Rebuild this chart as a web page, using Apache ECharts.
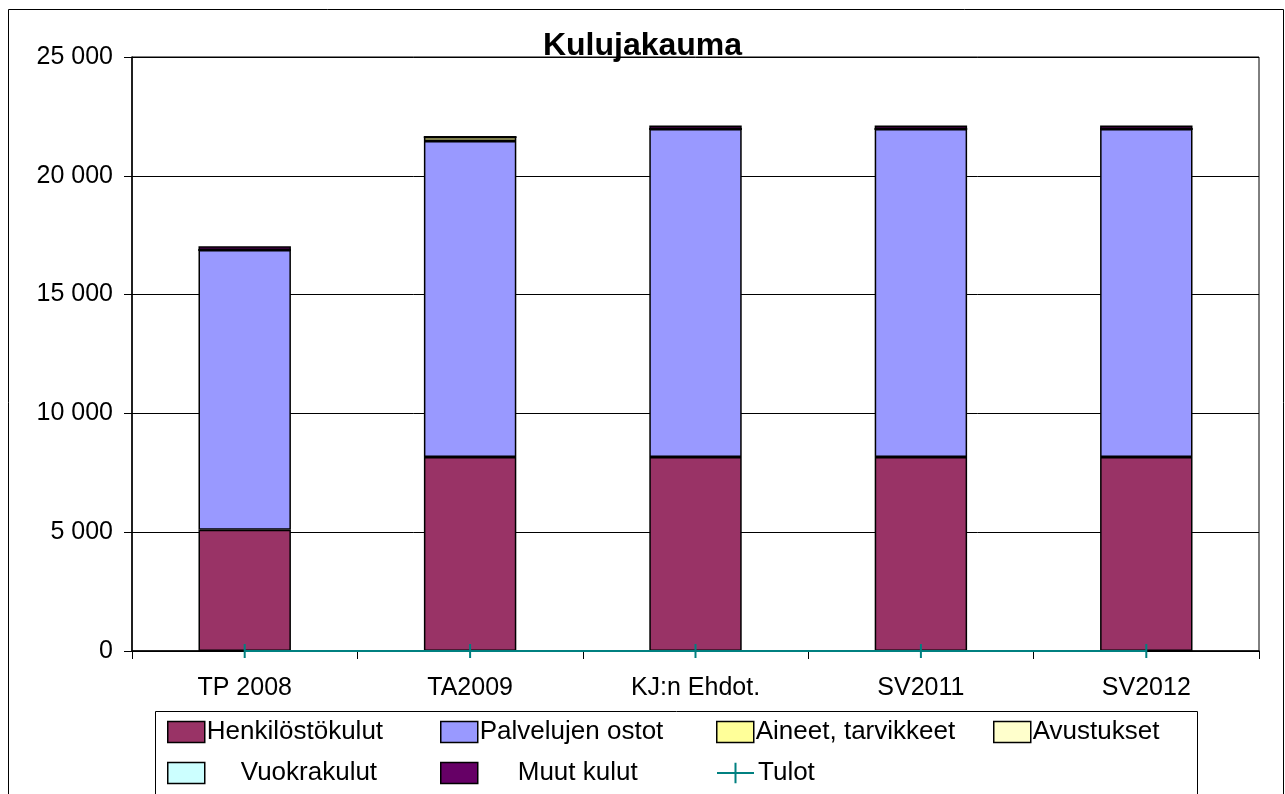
<!DOCTYPE html>
<html>
<head>
<meta charset="utf-8">
<script src="https://cdn.jsdelivr.net/npm/echarts@6/dist/echarts.min.js"></script>
<style>
html,body{margin:0;padding:0;background:#fff;}
#chart{width:1285px;height:794px;}
</style>
</head>
<body>
<div id="chart"></div>
<script>
// Cost distribution by budget year (thousand €)
const categories = ['TP 2008', 'TA2009', 'KJ:n Ehdot.', 'SV2011', 'SV2012'];
const henkilostokulut = [5100, 8170, 8170, 8170, 8170];
const palvelujenOstot = [11780, 13290, 13800, 13800, 13800];
const aineetTarvikkeet = [0, 170, 0, 0, 0];
const avustukset = [0, 0, 0, 0, 0];
const vuokrakulut = [0, 0, 0, 0, 0];
const muutKulut = [150, 0, 150, 150, 150];
const tulot = [0, 0, 0, 0, 0];
const yTicks = [0, 5000, 10000, 15000, 20000, 25000];

const FONT = '"Liberation Sans", Arial, sans-serif';

const barSeries = [
  { name: 'Henkilöstökulut', data: henkilostokulut, color: '#993366' },
  { name: 'Palvelujen ostot', data: palvelujenOstot, color: '#9999FF' },
  { name: 'Aineet, tarvikkeet', data: aineetTarvikkeet, color: '#FFFF99' },
  { name: 'Avustukset', data: avustukset, color: '#FFFFCC' },
  { name: 'Vuokrakulut', data: vuokrakulut, color: '#CCFFFF' },
  { name: 'Muut kulut', data: muutKulut, color: '#660066' }
].map(s => ({
  name: s.name,
  type: 'bar',
  stack: 'kulut',
  barWidth: '41%',
  data: s.data,
  itemStyle: { color: s.color, borderColor: '#000', borderWidth: 1.5 },
  emphasis: { disabled: true }
}));

const series = barSeries.concat([{
  name: 'Tulot',
  type: 'line',
  data: tulot,
  z: 5,
  symbol: 'path://M4.5,0 L5.5,0 L5.5,10 L4.5,10 Z',
  symbolSize: [2, 14],
  itemStyle: { color: '#008080' },
  lineStyle: { color: '#008080', width: 2 },
  emphasis: { disabled: true }
}]);

// Legend entries laid out in two rows inside a framed box
const legendSpots = [
  { name: 'Henkilöstökulut', left: 167, top: 719, gap: -3 },
  { name: 'Palvelujen ostot', left: 440, top: 719, gap: -3 },
  { name: 'Aineet, tarvikkeet', left: 716, top: 719, gap: -3 },
  { name: 'Avustukset', left: 993, top: 719, gap: -3 },
  { name: 'Vuokrakulut', left: 167, top: 760, gap: 31 },
  { name: 'Muut kulut', left: 440, top: 760, gap: 35 },
  { name: 'Tulot', left: 716, top: 760, gap: -1 }
];

const legends = legendSpots.map(l => ({
  data: [l.name === 'Tulot'
    ? { name: l.name, icon: 'path://M0,10 L36,10 M18,0 L18,20' }
    : { name: l.name, icon: 'rect' }],
  left: l.left,
  top: l.top,
  itemWidth: 37,
  itemHeight: 21,
  itemGap: 0,
  padding: 0,
  selectedMode: false,
  textStyle: { fontFamily: FONT, fontSize: 26, color: '#000', padding: [0, 0, 0, l.gap] },
  itemStyle: l.name === 'Tulot'
    ? { color: 'transparent', borderColor: '#008080', borderWidth: 2 }
    : { borderColor: '#000', borderWidth: 1.5 },
  lineStyle: l.name === 'Tulot' ? { width: 0 } : undefined
}));

const chart = echarts.init(document.getElementById('chart'), null, { renderer: 'canvas' });
chart.setOption({
  backgroundColor: '#fff',
  animation: false,
  title: {
    text: 'Kulujakauma',
    left: 'center',
    top: 25,
    textStyle: { fontFamily: FONT, fontSize: 32, fontWeight: 'bold', color: '#000' }
  },
  legend: legends,
  graphic: [
    { type: 'rect', shape: { x: 8.5, y: 9.5, width: 1275, height: 800 }, style: { fill: 'none', stroke: '#000', lineWidth: 1 }, z: 100 },
    { type: 'rect', shape: { x: 155.5, y: 711.5, width: 1042, height: 90 }, style: { fill: 'none', stroke: '#000', lineWidth: 1 }, z: 100 }
  ],
  grid: {
    left: 132, right: 26, top: 57, bottom: 143,
    show: true, borderColor: '#000', borderWidth: 1, backgroundColor: '#fff'
  },
  xAxis: {
    type: 'category',
    data: categories,
    axisLine: { lineStyle: { color: '#000', width: 1.5 } },
    axisTick: { show: true, length: 8, lineStyle: { color: '#000' } },
    axisLabel: { fontFamily: FONT, fontSize: 25, color: '#000', margin: 25 }
  },
  yAxis: {
    type: 'value',
    min: yTicks[0],
    max: yTicks[yTicks.length - 1],
    interval: 5000,
    axisLine: { show: true, lineStyle: { color: '#000', width: 1.5 } },
    axisTick: { show: true, length: 8, lineStyle: { color: '#000' } },
    splitLine: { lineStyle: { color: '#000', width: 1 } },
    axisLabel: {
      fontFamily: FONT, fontSize: 25, color: '#000', margin: 19,
      formatter: v => v === 0 ? '0' : String(v).replace(/\B(?=(\d{3})+(?!\d))/g, ' ')
    }
  },
  series: series
});
</script>
</body>
</html>
